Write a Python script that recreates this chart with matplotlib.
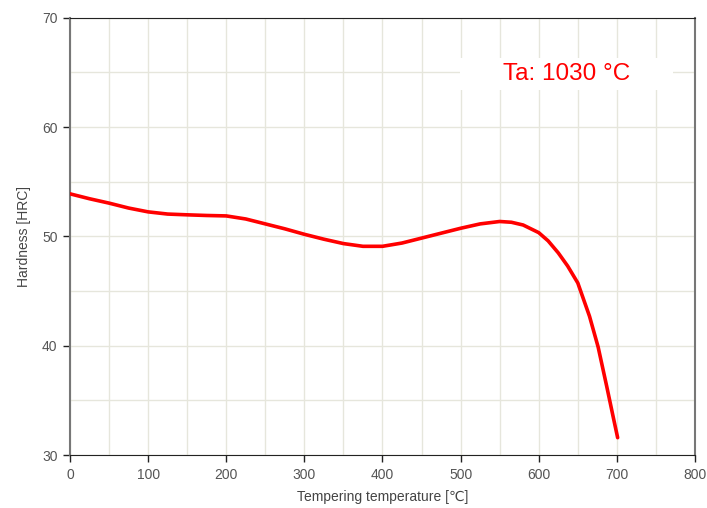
import numpy as np
import matplotlib.pyplot as plt
from matplotlib.patches import Rectangle

plt.rcParams['font.family'] = ['Liberation Sans', 'DejaVu Sans']

# tempering curve
temp = [0, 25, 50, 75, 100, 125, 150, 175, 200, 225, 250, 275, 300, 325, 350,
        375, 400, 425, 450, 475, 500, 525, 550, 565, 580, 600, 612, 625, 637,
        650, 665, 676, 687, 695, 701]
hardness = [53.9, 53.45, 53.05, 52.6, 52.25, 52.05, 51.98, 51.92, 51.88, 51.6,
            51.15, 50.7, 50.2, 49.75, 49.35, 49.1, 49.1, 49.4, 49.85, 50.3,
            50.75, 51.15, 51.37, 51.3, 51.05, 50.35, 49.6, 48.5, 47.3,
            45.75, 42.7, 39.9, 36.3, 33.6, 31.6]

xmajor = np.arange(0, 801, 100)
ymajor = np.arange(30, 71, 10)

fig = plt.figure(figsize=(7.07, 5.08), dpi=100)
ax = fig.add_axes([0.099, 0.104, 0.884, 0.861])

ax.plot(temp, hardness, color='#ff0000', lw=2.6, solid_capstyle='round', zorder=3)

ax.set_xlim(0, 800)
ax.set_ylim(30, 70)
ax.set_xticks(xmajor)
ax.set_yticks(ymajor)
ax.set_xticks(np.arange(0, 801, 50), minor=True)
ax.set_yticks(np.arange(30, 71, 5), minor=True)
ax.grid(which='both', color='#e6e6dc', lw=1)
ax.set_axisbelow(True)
ax.tick_params(which='minor', length=0)
ax.tick_params(which='major', length=5, width=1, colors='#222222',
               labelcolor='#555555', labelsize=10, pad=4)

for side in ['top', 'bottom']:
    ax.spines[side].set_color('#222222')
for side in ['left', 'right']:
    ax.spines[side].set_color('#777777')
    ax.spines[side].set_linewidth(1.5)

ax.set_xlabel('Tempering temperature [℃]', color='#444444', fontsize=10,
              labelpad=6)
ax.set_ylabel('Hardness [HRC]', color='#444444', fontsize=10, labelpad=8)

# white label box in the upper right
ax.add_patch(Rectangle((0.624, 0.835), 0.341, 0.073, transform=ax.transAxes,
                       facecolor='white', edgecolor='none', zorder=4))
ax.text(0.7945, 0.8715, 'Ta: 1030 °C', color='#ff0000', fontsize=17.5,
        ha='center', va='center', transform=ax.transAxes, zorder=5)

fig.savefig('out.png', dpi=100)
